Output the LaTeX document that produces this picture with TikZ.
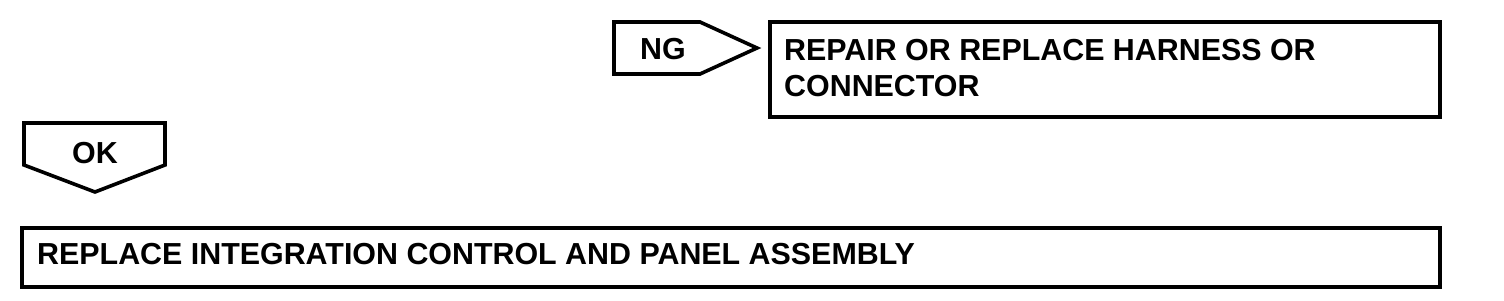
\documentclass[tikz,border=0pt]{standalone}
\usepackage{fontspec}
\setmainfont{Liberation Sans}
\usetikzlibrary{positioning}
\tikzset{
  stepframe/.style={draw=black, line width=3.6pt, line join=miter},
  flag/.style={draw=black, line width=3.6pt, line join=miter},
  lbl/.style={font=\fontsize{30.4}{36}\selectfont\bfseries, inner sep=0pt, align=left},
}
\begin{document}
\begin{tikzpicture}[x=1pt, y=-1pt]
  \useasboundingbox (0,0) rectangle (1504,300);
  % result flags
  \draw[flag] (614,22) -- (700,22) -- (757,48) -- (700,74) -- (614,74) -- cycle;
  \node[lbl, anchor=base west] (ng) at (640,59) {NG};
  \draw[flag] (24,123) -- (165,123) -- (165,165) -- (95,192) -- (24,165) -- cycle;
  \node[lbl, anchor=base west] (ok) at (72,163) {OK};
  % action boxes
  \draw[stepframe] (770,22) rectangle (1440,117);
  \node[lbl, anchor=base west] (repair) at (784,96)
    {REPAIR OR REPLACE HARNESS OR\\CONNECTOR};
  \draw[stepframe] (22,228) rectangle (1440,287);
  \node[lbl, anchor=base west] (replace) at (37,264)
    {REPLACE INTEGRATION CONTROL AND PANEL ASSEMBLY};
\end{tikzpicture}
\end{document}
